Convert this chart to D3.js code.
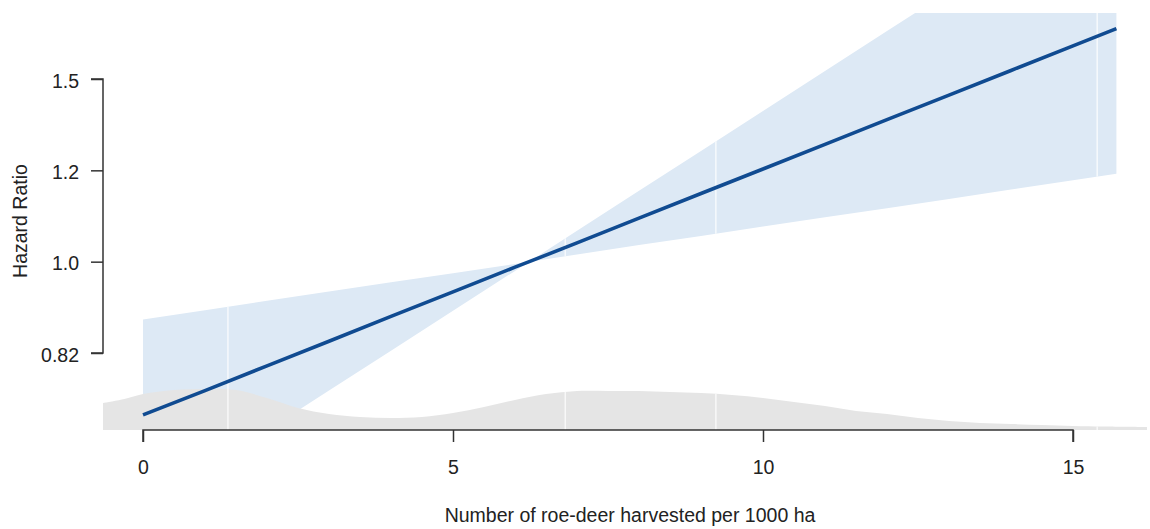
<!DOCTYPE html>
<html>
<head>
<meta charset="utf-8">
<script src="https://cdn.jsdelivr.net/npm/d3@7"></script>
<style>
  html, body { margin: 0; padding: 0; background: #fff; }
  svg { display: block; }
  text { font-family: "Liberation Sans", Arial, sans-serif; fill: #222; }
</style>
</head>
<body>
<svg id="chart" width="1150" height="529"></svg>
<script>
// Harvest intensity (roe-deer per 1000 ha) and estimated hazard ratio with 95% CI
const harvest = [0, 1, 2, 3, 4, 5, 6, 6.23, 7, 8, 9, 10, 11, 12, 13, 14, 15, 15.7];
const hazardRatio = [0.715, 0.754, 0.796, 0.840, 0.887, 0.936, 0.988, 1.000, 1.042, 1.100, 1.161, 1.225, 1.293, 1.365, 1.440, 1.520, 1.604, 1.666];
const ciLower = [0.580, 0.633, 0.691, 0.754, 0.823, 0.898, 0.980, 1.000, 1.016, 1.037, 1.058, 1.080, 1.102, 1.124, 1.147, 1.171, 1.195, 1.212];
const ciUpper = [0.881, 0.899, 0.918, 0.937, 0.956, 0.975, 0.995, 1.000, 1.070, 1.168, 1.274, 1.391, 1.518, 1.657, 1.808, 1.974, 2.154, 2.290];

// Distribution of the exposure (kernel density), drawn along the bottom
const densX = [-0.65, -0.3, 0, 0.5, 1.0, 1.5, 2.0, 2.5, 3.0, 3.5, 4.0, 4.5, 5.0, 5.5, 6.0, 6.5, 7.0, 7.5, 8.0, 8.5, 9.0, 9.5, 10.0, 10.5, 11.0, 11.5, 12.0, 12.5, 13.0, 13.5, 14.0, 14.5, 15.0, 15.5, 16.2];
const densY = [0.027, 0.031, 0.036, 0.040, 0.041, 0.040, 0.032, 0.022, 0.016, 0.013, 0.012, 0.013, 0.017, 0.023, 0.030, 0.036, 0.039, 0.039, 0.039, 0.038, 0.037, 0.035, 0.032, 0.028, 0.024, 0.019, 0.016, 0.012, 0.009, 0.007, 0.006, 0.005, 0.004, 0.0035, 0.003];

// Polygon seams of the shaded regions
const seams = [1.37, 6.81, 9.24, 15.39];

// Axis ticks: y ticks sit at log(HR) = -0.2, 0, 0.2, 0.4
const xTicks = [0, 5, 10, 15];
const yTickLogs = [-0.2, 0, 0.2, 0.4];
const yTickLabels = ["0.82", "1.0", "1.2", "1.5"];

const svg = d3.select("#chart");
const plot = { left: 103, right: 1147, top: 13, bottom: 430 };
const fontSize = 19.5;

const x = d3.scaleLinear().domain([0, 15]).range([143, 1073]);
const y = d3.scaleLog().domain([Math.exp(-0.2), Math.exp(0.4)]).range([353, 79]);
const yd = d3.scaleLinear().domain([0, 0.1]).range([plot.bottom, plot.bottom - 100]);

svg.append("defs").append("clipPath").attr("id", "plotclip")
  .append("rect")
  .attr("x", plot.left).attr("y", plot.top)
  .attr("width", plot.right - plot.left).attr("height", plot.bottom - plot.top);

const g = svg.append("g").attr("clip-path", "url(#plotclip)");

const rows = harvest.map((h, i) => ({ x: h, hr: hazardRatio[i], lo: ciLower[i], hi: ciUpper[i] }));
const dens = densX.map((d, i) => ({ x: d, v: densY[i] }));

// confidence band
const band = d3.area()
  .x(d => x(d.x))
  .y0(d => y(d.lo))
  .y1(d => y(d.hi));
g.append("path").datum(rows).attr("d", band).attr("fill", "#dde9f5");

// density
const densArea = d3.area()
  .x(d => x(d.x))
  .y0(plot.bottom)
  .y1(d => yd(d.v))
  .curve(d3.curveCatmullRom.alpha(0.5));
g.append("path").datum(dens).attr("d", densArea).attr("fill", "#e5e5e5");

// thin light seams across the shaded regions
const shadedClip = svg.select("defs").append("clipPath").attr("id", "shadedclip");
shadedClip.append("path").datum(rows).attr("d", band);
shadedClip.append("path").datum(dens).attr("d", densArea);
g.append("g").attr("clip-path", "url(#shadedclip)")
  .selectAll("line").data(seams).join("line")
  .attr("x1", d => x(d)).attr("x2", d => x(d))
  .attr("y1", plot.top).attr("y2", plot.bottom)
  .attr("stroke", "#fff").attr("stroke-width", 1.3).attr("stroke-opacity", 0.85);

// point estimate
g.append("path").datum(rows)
  .attr("d", d3.line().x(d => x(d.x)).y(d => y(d.hr)))
  .attr("fill", "none")
  .attr("stroke", "#104b91")
  .attr("stroke-width", 3.6)
  .attr("stroke-linecap", "butt");

// axes
const axisColor = "#333";
const xAxis = svg.append("g").attr("transform", `translate(0,${plot.bottom})`)
  .call(d3.axisBottom(x).tickValues(xTicks).tickSize(12).tickPadding(18).tickFormat(d3.format("d")));
const yAxis = svg.append("g").attr("transform", `translate(${plot.left},0)`)
  .call(d3.axisLeft(y).tickValues(yTickLogs.map(Math.exp)).tickSize(12).tickPadding(12)
    .tickFormat((d, i) => yTickLabels[i]));

[xAxis, yAxis].forEach(a => {
  a.select(".domain").attr("stroke", axisColor).attr("stroke-width", 1.5);
  a.selectAll(".tick line").attr("stroke", axisColor).attr("stroke-width", 1.5);
  a.selectAll(".tick text").attr("font-size", fontSize).attr("fill", "#222")
    .attr("font-family", "'Liberation Sans', Arial, sans-serif");
});
// R-style axis lines span only from first to last tick
xAxis.select(".domain").attr("d", `M${x(0)},12V0H${x(15)}V12`);
yAxis.select(".domain").attr("d", `M-12,${y(Math.exp(-0.2))}H0V${y(Math.exp(0.4))}H-12`);
yAxis.selectAll(".tick text").attr("dy", "0.42em");

// axis titles
svg.append("text")
  .attr("x", 630).attr("y", 522)
  .attr("text-anchor", "middle").attr("font-size", fontSize)
  .text("Number of roe-deer harvested per 1000 ha");
svg.append("text")
  .attr("transform", `translate(27,${(y(Math.exp(-0.2)) + y(Math.exp(0.4))) / 2 + 5}) rotate(-90)`)
  .attr("text-anchor", "middle").attr("font-size", fontSize)
  .text("Hazard Ratio");
</script>
</body>
</html>
